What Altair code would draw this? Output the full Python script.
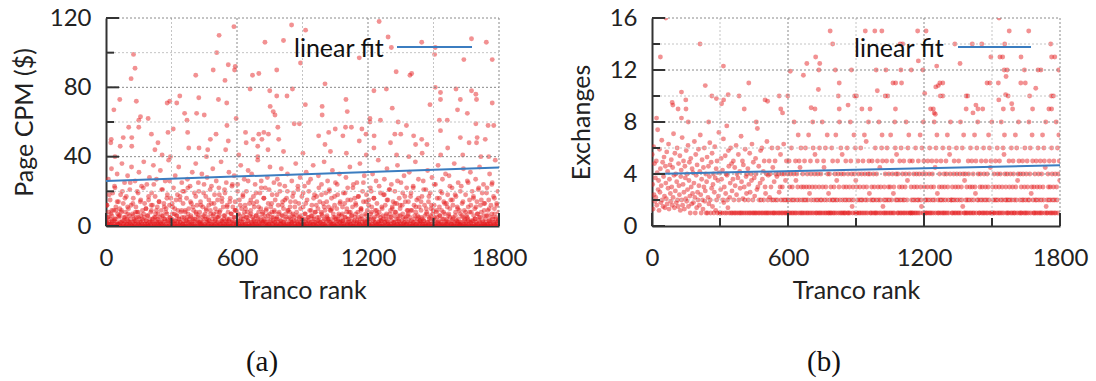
import altair as alt
import pandas as pd

# ---------------- data: panel (a) Page CPM ----------------
cpm_hi_rank = [1251, 586, 850, 914, 518, 1292, 1674, 1742, 728, 813, 1446, 1508, 1307, 507, 126, 1505, 1160, 891, 1769, 1639,
               133, 560, 592, 589, 491, 782, 1329, 1400, 1392, 411, 671, 700, 545, 115, 1003, 1508, 1284, 854, 660, 1227,
               750, 1532, 1674, 1694, 1603, 782, 829, 338, 63, 425, 1099, 1532, 1623, 1697, 139, 292, 280, 324, 515, 553,
               1484, 1769, 752, 913, 990, 1311, 36, 1105, 1610, 1655, 766, 774, 990, 415, 450, 360, 158, 193, 150, 371,
               596, 1209, 1209, 1257, 862, 886, 1338, 1527, 104, 150, 308, 554, 787, 1097, 1124, 1050, 1172, 1376, 1532, 1563,
               1694, 1750, 1776, 79, 118, 208, 284, 374, 504, 639, 700, 723, 744, 791, 974, 1020, 1085, 1191, 1228, 1323,
               1350, 1409, 1446, 1737, 1700, 1663, 1623, 22, 24, 238, 478, 560, 642, 674, 714, 1003, 1160, 1303, 1418, 1470,
               1565, 1697, 1227, 65, 118, 224, 379, 426, 466, 548, 695, 742, 813, 902, 1028, 1101, 1331, 1448, 1533, 1634,
               1717, 41, 257, 295, 460, 608, 695, 1192, 1387, 1753]
cpm_hi_val = [118, 115, 116, 113, 110, 109, 108, 106, 106, 107, 106, 103, 103, 100, 99, 99, 97, 94, 96, 96,
              91, 93, 92, 90, 90, 90, 89, 88, 87, 87, 87, 88, 84, 85, 82, 80, 79, 79, 79, 78,
              78, 77, 78, 76, 79, 75, 75, 75, 73, 74, 73, 73, 73, 73, 72, 72, 71, 71, 73, 71,
              70, 71, 69, 70, 69, 68, 67, 66, 67, 65, 66, 64, 64, 65, 64, 65, 63, 62, 61, 61,
              62, 62, 60, 61, 59, 59, 60, 61, 57, 57, 56, 58, 57, 57, 57, 56, 56, 58, 55, 61,
              59, 58, 58, 51, 51, 53, 54, 54, 53, 54, 53, 54, 53, 50, 52, 54, 52, 53, 52, 53,
              53, 52, 50, 50, 51, 48, 51, 48, 50, 48, 50, 49, 48, 50, 50, 47, 49, 48, 47, 47,
              45, 48, 45, 46, 46, 44, 45, 45, 44, 44, 46, 44, 43, 42, 43, 42, 41, 42, 41, 41,
              40, 40, 41, 40, 40, 41, 40, 41, 40, 40]
# remaining sites, in rank order (every second rank)
cpm_low_val = [
    3,0,12,5,1,27,8,2,0,15,4,1,33,6,2,19,0,9,3,1,22,4,11,0,2,30,7,1,14,5,
    1,6,0,18,2,9,36,3,0,13,1,5,25,2,8,0,17,4,1,29,3,10,0,6,21,2,1,12,34,0,
    7,2,16,0,4,1,26,3,11,5,0,20,2,8,1,31,4,0,14,6,2,23,1,9,3,0,37,5,13,1,
    0,10,3,24,1,6,0,15,2,28,4,1,8,0,19,3,12,2,35,0,5,1,17,7,0,27,2,11,4,1,
    2,14,0,5,32,1,9,3,0,21,6,2,13,0,4,26,1,10,0,7,18,2,3,38,0,12,5,1,16,3,
    4,0,11,2,22,0,7,1,29,3,15,0,6,2,9,1,34,4,0,17,2,8,0,25,5,1,13,3,0,20,
    1,8,3,0,16,5,27,2,0,10,4,1,23,0,6,13,2,31,0,3,9,1,19,4,0,36,7,2,12,0,
    5,2,20,0,8,1,14,3,0,30,2,11,0,6,24,1,4,0,17,9,2,28,0,5,1,12,3,0,21,7,
    0,13,1,4,33,2,7,0,18,3,10,1,26,0,5,15,2,0,22,6,1,9,0,37,3,14,2,0,11,4,
    6,1,19,0,3,25,2,12,0,8,1,31,4,0,16,2,7,0,23,3,11,1,0,29,5,14,2,0,9,1,
    2,24,0,7,1,15,3,0,35,4,10,1,0,18,6,2,27,0,12,1,5,20,0,8,3,32,1,0,13,6,
    0,9,2,30,1,5,0,17,3,11,0,24,2,6,1,14,0,38,4,8,2,0,19,1,10,26,3,0,7,2,
    3,16,0,6,22,1,9,2,0,28,4,13,1,0,7,34,2,11,0,5,18,1,3,0,25,8,2,15,0,4,
    1,5,27,0,12,2,8,0,20,3,1,33,6,0,14,2,10,1,0,23,4,7,0,16,2,30,1,9,0,5,
    8,0,14,3,1,26,2,6,0,19,5,1,11,0,36,3,8,2,0,21,1,13,4,0,28,2,6,0,17,1,
    0,11,4,1,23,0,7,2,31,1,15,0,5,3,20,0,9,1,27,2,0,12,6,1,35,0,4,18,2,8,
    2,0,17,5,1,10,29,0,3,14,2,0,8,24,1,6,0,13,3,37,1,9,0,19,2,5,0,26,4,11,
    4,21,0,9,2,1,16,0,32,3,7,1,0,12,5,25,2,0,10,1,18,4,0,6,30,2,14,0,3,1,
    0,7,3,19,1,0,13,5,2,28,0,10,1,22,4,0,8,2,34,1,15,0,6,3,11,0,24,2,0,16,
    5,1,12,0,25,3,8,0,17,2,1,36,4,0,10,6,2,20,0,14,1,29,3,0,7,2,18,0,9,4,
    1,15,0,4,2,22,7,0,11,1,30,3,0,16,5,2,9,0,26,1,13,0,6,38,2,8,1,0,19,3,
    3,0,10,6,1,18,0,27,2,12,4,0,7,33,1,15,2,0,21,5,0,9,1,24,3,11,0,14,2,6,
    0,20,2,8,0,13,1,35,4,6,0,16,2,10,1,25,0,3,12,7,1,0,29,2,17,0,5,1,22,9,
    6,2,14,0,31,1,5,0,19,3,9,1,0,23,2,12,4,0,37,8,1,15,0,6,2,27,0,11,3,1,
    2,9,0,17,4,1,26,3,0,12,6,1,21,0,8,2,32,0,14,1,5,0,19,3,10,1,28,0,7,4,
    0,12,5,1,24,0,8,2,16,0,35,3,1,11,6,0,20,2,9,0,27,1,4,14,0,7,2,30,1,13,
    4,1,18,0,6,29,2,10,0,15,1,3,22,0,12,5,1,36,2,0,8,17,3,0,11,1,25,4,0,9,
    1,7,0,23,2,13,0,5,33,1,9,3,0,18,2,6,0,26,4,11,1,0,15,2,31,0,8,3,20,0,
    3,16,1,0,10,4,27,2,0,14,7,1,21,0,5,34,2,12,0,8,1,19,3,0,24,6,1,13,0,2,
    0,6,22,1,9,0,15,3,30,2,1,12,0,7,25,4,0,17,2,10,1,38,0,5,13,2,0,20,3,8,
]
# the many sites with a CPM of only a few dollars (dense band at the bottom)
cpm_floor_val = [
    2,5,1,7,3,0,4,9,1,6,2,8,0,3,5,1,7,2,4,0,6,3,1,8,5,2,0,4,7,1,
    3,6,0,2,9,4,1,5,3,7,0,2,6,1,4,8,3,0,5,2,7,1,3,6,0,4,2,9,1,5,
    0,3,7,2,5,1,4,0,8,3,6,2,1,5,0,7,4,2,3,9,1,6,0,4,2,5,8,1,3,0,
    6,1,4,3,0,7,2,5,9,1,3,6,0,2,4,8,1,5,3,0,7,2,4,1,6,3,0,5,2,8,
    4,2,0,6,1,3,8,5,2,0,4,7,1,3,6,2,0,5,9,1,4,2,7,3,0,6,1,5,2,4,
    1,7,3,0,5,2,6,4,1,8,0,3,5,2,7,1,4,0,6,3,2,9,1,5,0,4,3,7,2,6,
    3,0,5,8,2,4,1,6,0,3,7,2,5,1,9,4,0,2,6,3,1,5,8,0,4,2,7,1,3,5,
    0,4,2,6,3,1,7,5,0,2,8,4,1,3,6,0,5,2,4,1,7,3,9,0,2,6,1,4,5,3,
    5,1,3,0,7,2,4,6,1,9,3,0,5,2,6,1,4,8,0,3,2,7,5,1,4,0,6,3,2,1,
    2,6,0,4,1,5,3,8,2,0,6,4,1,7,3,5,0,2,9,4,1,6,3,0,5,2,7,4,1,3,
]
# sites in the 8-26 dollar range
cpm_mid_val = [
    12,18,9,23,14,10,20,16,11,25,13,8,19,15,22,10,17,12,24,9,14,21,11,16,26,13,10,18,15,20,
    9,22,14,11,17,25,12,19,10,15,23,13,8,18,16,21,11,14,24,9,20,12,17,10,26,15,13,19,11,22,
    16,10,21,13,9,18,24,12,15,20,11,17,14,23,10,19,13,25,9,16,12,22,18,11,14,20,10,17,24,13,
    11,19,15,8,22,13,17,10,25,14,12,20,16,9,23,11,18,15,21,10,13,26,12,19,14,9,17,22,11,16,
    14,21,10,17,12,24,9,16,19,13,11,23,15,18,10,20,14,8,25,12,17,11,22,15,13,19,10,24,16,12,
]
fit_rank = [0, 1800]
cpm_fit = [26.0, 33.7]

# ---------------- data: panel (b) Exchanges ----------------
exch_hi_rank = [61, 1531, 786, 941, 983, 1014, 1172, 1209, 1576, 1662, 212, 797, 1095, 1106, 1336, 1413, 1455, 1556, 1759, 37,
                722, 1175, 1495, 1535, 1547, 1628, 1763, 1777, 683, 740, 315, 1256, 1359, 610, 668, 736, 809, 880, 989, 1032,
                1098, 1144, 1195, 1554, 1567, 1643, 1703, 1716, 1794, 1562, 427, 826, 1063, 1075, 1101, 1270, 1283, 1478, 1491, 1528,
                1627, 1647, 1263, 1252, 235, 734, 994, 1693, 130, 336, 264, 284, 384, 561, 599, 822, 894, 902, 1029, 1040,
                1203, 1272, 1283, 1386, 1393, 1571, 1666, 1762, 1771, 1560, 149, 499, 307, 316, 89, 92, 115, 150, 865, 702,
                826, 926, 1074, 1229, 1241, 1386, 1438, 1459, 1550, 1591, 1679, 1751, 1763, 1429, 1416, 962, 719, 568, 576, 1245,
                1250, 407, 1587, 1530, 20, 130, 160, 250, 330, 460, 510]
exch_hi_val = [16, 16, 15, 15, 15, 15, 15, 15, 15, 15, 14, 14, 14, 14, 14, 14, 14, 14, 14, 13,
               13, 12.7, 13, 13, 13, 13, 13, 13, 12.5, 12.5, 12.3, 12.3, 12.5, 11.9, 11.6, 12, 12, 12, 12, 12,
               12, 12, 12, 12, 12, 12, 12, 12, 12, 11.5, 11, 11, 11, 11, 11, 11, 11, 11, 11, 11,
               11, 11, 10.8, 10.7, 10.8, 10.5, 10.4, 10.6, 10.3, 10.1, 10, 9.8, 10, 10, 10, 10, 10, 10, 10, 10,
               10.2, 10, 10, 10, 10, 10, 10, 10, 10, 10.1, 9.7, 9.7, 9.4, 9.7, 9.5, 9.3, 9, 9, 9.3, 9.1,
               9, 9, 9, 9, 9, 9, 9, 9, 9, 9, 9, 9, 9, 9.3, 8.7, 9, 9, 9, 8.7, 8.7,
               8.6, 9, 9.4, 9.7, 8.3, 8.3, 8, 8, 7.7, 8, 9.6]
exch_low_val = [
    5.5,3.2,1.3,6.1,2.4,4.8,1.9,3.7,2.2,5.0,1.6,4.1,7.4,2.8,3.5,1.2,5.9,2.6,4.4,1.8,3.1,6.6,2.0,4.9,1.5,3.8,5.3,2.3,1.4,4.6,
    3.3,2.1,5.7,1.7,4.2,2.9,6.3,1.3,3.6,4.7,2.5,1.9,5.1,3.0,1.6,4.5,2.2,7.1,3.9,1.4,5.6,2.7,4.0,1.8,3.4,6.0,2.0,1.5,4.8,3.1,
    2.4,5.4,1.2,3.8,4.3,2.0,6.8,1.6,3.2,5.0,2.6,1.3,4.6,3.7,2.1,5.8,1.9,4.0,2.8,6.2,1.5,3.5,4.9,2.3,1,5.2,3.0,1.7,4.4,2.5,
    4.1,1.8,3.3,6.5,2.2,1,5.5,3.9,1.4,4.7,2.6,2,5.9,3.1,1.6,4.2,7.0,2.4,1,3.6,5.1,2.0,1.3,4.5,3.0,6.0,1.9,2.7,4.0,1,
    3.4,5.3,1,2.2,4.6,1.7,3.8,6.4,2,1,4.9,2.9,5.6,1.5,3.2,4,1,2.6,6.1,3.7,1.2,4.4,2,5.0,1,3.5,2.3,7.2,4.1,1,
    1,2.8,5.2,3.6,1,4.3,2,6.7,1.8,3,1,5.4,2.5,4.0,1,3.9,2,1.4,5.8,4.6,1,2.2,3.3,6,1,4.8,2.7,1,3.6,5.0,
    2,1,4.5,3.1,1,6.2,2.4,4,1,3.7,5.5,2,1,4.2,2.9,1,6.9,3.4,1,5,2.1,4.7,1,3,2,5.9,1,3.8,2.5,4,
    1,4.4,2,3.2,1,5.6,2.6,1,4,3.5,6.3,1,2,4.9,1,3.7,2.3,1,5.2,4,1,2.8,7.5,3,1,4.6,2,1,3.3,5.8,
    2,1,6,3.6,1,4.2,2,5,1,3,2.5,1,4,6.5,1,2,3.9,1,5,2.2,4,1,3,2,6,1,4.5,2,1,3.4,
    1,5,2,4,1,3.8,2,6,1,4,2.6,1,3,5.5,2,1,4,3,1,2,6.3,4,1,2,3.5,1,5,2,1,4,
    2,1,5,3,1,4,2,6,1,3,2,1,4,8,2,1,5,3.5,1,4,2,3,7,1,5,2,4.5,1,6,3,
    1,2,4,1,3,2,5,1,6,2,3,1,4,2,1,7,3,2.5,1,5,4,2,1,3,8,6,1,2,4,5.5,
    3,1,2,1,5,4,2,1,3,6,1,2,4,1,2,8,3,1,5,4.5,2,1,6,3,1,2,7,4,1,2.5,
    1,4,2,1,3,1,6,2,5,1,2,3,1,4,2,7,1,3.5,2,5,4,1,3,8,2,1,6,4,1,5.5,
    2,1,3,4,1,2,1,5,3,2,6,1,4,1,2,3,1,8,5,2,4,1.5,1,3,2,7,4,1,6,3.5,
    1,3,1,2,5,4,1,2,3,1,6,2,4,1,2,5,3,1,7,4,2,1,6.5,3,2,1,4,8,5,2.5,
    4,1,2,1,3,5,2,1,4,2,3,1,6,1,2,4,1,5,3,2,8,1,4.5,2,3,1,6,7,5,1.5,
    1,2,3,1,4,2,1,5,6,2,1,3,4,2,1,3,7,1,2,5,4,1,2.5,3,1,8,6,2,4,5.5,
    2,1,4,1,2,3,5,1,2,6,1,3,4,2,1,5,2,1,3,4,8,1,2,3.5,6,1,7,4,5,1,
    1,3,2,1,5,1,2,4,3,1,2,6,1,4,3,2,1,5,2,4,1,7,3,2,1.5,6,4,1,8,5,
    3,1,2,4,1,2,1,3,5,2,1,4,6,1,2,3,1,5,4,2,1,3,8,2,4.5,1,6,5,7,2.5,
    1,2,1,3,4,2,1,5,2,3,1,6,2,1,4,3,1,2,5,4,1,7,3,2,1,6,5.5,4,8,2,
    2,1,3,1,2,4,5,1,2,3,1,6,4,2,1,3,5,1,2,4,8,1,3,2,6,1.5,4,7,1,3.5,
    1,4,2,1,3,2,1,5,4,2,1,3,6,1,2,5,3,1,4,2,1,7,3,2.5,5,1,6,2,8,4,
    2,1,1,3,4,2,5,1,3,2,1,6,4,1,2,3,5,1,2,4,1,3,7,2,6,1,4.5,5,1,8,
    1,3,2,1,4,1,2,5,3,2,1,6,4,2,1,3,5,1,4,2,8,1,3,2,6,1,5.5,7,4,2,
    3,1,2,4,1,2,1,5,3,2,4,1,6,2,1,3,5,4,1,2,1,7,3,2,6,1,3.5,4,8,5,
    1,2,4,1,3,1,2,5,4,2,1,3,6,1,2,4,1,5,3,2,1,8,2,4,6,1,2.5,3,7,5,
    2,1,3,1,4,2,1,5,2,3,1,6,4,2,1,3,5,1,2,4,1,7,3,2,6,5,1,4.5,8,1.5,
    1,2,1,4,3,2,5,1,3,2,1,6,4,1,2,3,5,1,2,4,1,8,3,2,6,1,4,7,5,3.5,
]
exch_fit = [4.0, 4.67]

x_major = [0, 600, 1200, 1800]
x_minor = [300, 900, 1500]
a_major = [0, 40, 80, 120]
a_minor = [20, 60, 100]
b_major = [0, 4, 8, 12, 16]
b_minor = [2, 6, 10, 14]

RED = "#e41a1c"
BLUE = "#3b7dc0"
AXC = "#333333"
TXT = "#222222"
FONT = "Lato"


def make_points(hi_rank, hi_val, low_lists):
    ranks = list(hi_rank)
    vals = list(hi_val)
    for off, low in low_lists:
        n = len(low)
        ranks += [off + i * 1800 // n for i in range(n)]
        vals += list(low)
    return pd.DataFrame({"rank": ranks, "val": vals})


def panel(pts, fit_vals, ymajor, yminor, ymax, W, H, ytitle, leg_text_x, leg_line, cap, cap_x, ytitle_pad):
    xs = alt.Scale(domain=[0, 1800], nice=False, zero=False)
    ys = alt.Scale(domain=[0, ymax], nice=False, zero=False)
    xax = alt.Axis(
        values=x_major, format="d", ticks=False, grid=False, domain=True,
        domainColor=AXC, domainWidth=2, labelFont=FONT, labelFontSize=24, labelColor=TXT,
        labelPadding=20, labelFlush=False, labelOverlap=False, labelBound=False,
        title="Tranco rank", titleFont=FONT, titleFontSize=25, titleFontWeight="normal",
        titleColor=TXT, titlePadding=8)
    yax = alt.Axis(
        values=ymajor, format="d", ticks=False, grid=False, domain=True,
        domainColor=AXC, domainWidth=2, labelFont=FONT, labelFontSize=24, labelColor=TXT,
        labelPadding=15, labelOverlap=False, labelFlush=False,
        title=ytitle, titleFont=FONT, titleFontSize=25, titleFontWeight="normal",
        titleColor=TXT, titlePadding=ytitle_pad)
    one = pd.DataFrame({"k": [0]})

    def hgrid(vals, color):
        return alt.Chart(pd.DataFrame({"v": vals})).mark_rule(
            color=color, strokeDash=[2, 2], strokeWidth=1
        ).encode(y=alt.Y("v:Q", scale=ys, axis=yax), x=alt.value(0), x2=alt.value(W))

    def vgrid(vals, color):
        return alt.Chart(pd.DataFrame({"v": vals})).mark_rule(
            color=color, strokeDash=[2, 2], strokeWidth=1
        ).encode(x=alt.X("v:Q", scale=xs, axis=xax), y=alt.value(0), y2=alt.value(H))

    def yticks(vals, length):
        return alt.Chart(pd.DataFrame({"v": vals})).mark_rule(color=AXC, strokeWidth=2).encode(
            y=alt.Y("v:Q", scale=ys, axis=yax), x=alt.value(0), x2=alt.value(length))

    def xticks(vals, length):
        return alt.Chart(pd.DataFrame({"v": vals})).mark_rule(color=AXC, strokeWidth=2).encode(
            x=alt.X("v:Q", scale=xs, axis=xax), y=alt.value(H), y2=alt.value(H - length))

    points = alt.Chart(pts).mark_circle(size=24, color=RED, opacity=0.48, clip=True).encode(
        x=alt.X("rank:Q", scale=xs, axis=xax),
        y=alt.Y("val:Q", scale=ys, axis=yax),
    )

    fit_df = pd.DataFrame({"rank": fit_rank, "val": fit_vals})
    fit = alt.Chart(fit_df).mark_line(color=BLUE, strokeWidth=2).encode(
        x=alt.X("rank:Q", scale=xs, axis=xax), y=alt.Y("val:Q", scale=ys, axis=yax))

    leg_txt = alt.Chart(pd.DataFrame({"t": ["linear fit"]})).mark_text(
        font=FONT, fontSize=25, color="#111111", align="left", baseline="alphabetic"
    ).encode(text="t:N", x=alt.value(leg_text_x), y=alt.value(39))
    leg_line = alt.Chart(one).mark_rule(color=BLUE, strokeWidth=2).encode(
        x=alt.value(leg_line[0]), x2=alt.value(leg_line[1]), y=alt.value(29))

    caption = alt.Chart(pd.DataFrame({"t": [cap]})).mark_text(
        font="Liberation Serif", fontSize=29, color="#111111", align="center", baseline="middle"
    ).encode(text="t:N", x=alt.value(cap_x), y=alt.value(344))

    ymaj_nz = [v for v in ymajor if v > 0]
    xmaj_nz = [v for v in x_major if v > 0]
    return alt.layer(
        points,
        hgrid(yminor, "#c4c4c4"), vgrid(x_minor, "#c4c4c4"),
        hgrid(ymaj_nz, "#8a8a8a"), vgrid(xmaj_nz, "#8a8a8a"),
        fit,
        yticks(ymajor, 13), yticks(yminor, 8), xticks(x_major, 13), xticks(x_minor, 8),
        leg_txt, leg_line, caption,
    ).properties(width=W, height=H)


pts_a = make_points(cpm_hi_rank, cpm_hi_val, [(1, cpm_low_val), (4, cpm_floor_val), (3, cpm_mid_val)])
pts_b = make_points(exch_hi_rank, exch_hi_val, [(1, exch_low_val)])

pa = panel(pts_a, cpm_fit, a_major, a_minor, 120, 393, 208, "Page CPM ($)", 188, (291, 366), "(a)", 156, 12)
pb = panel(pts_b, exch_fit, b_major, b_minor, 16, 408, 208, "Exchanges", 202, (306, 379), "(b)", 172, 15)

chart = alt.hconcat(pa, pb, spacing=153, bounds="flush").configure_view(strokeWidth=0).properties(
    padding={"left": 12, "top": 6, "right": 4, "bottom": 4}, background="white")

chart.save("out.html", embed_options={"renderer": "svg", "actions": False})
